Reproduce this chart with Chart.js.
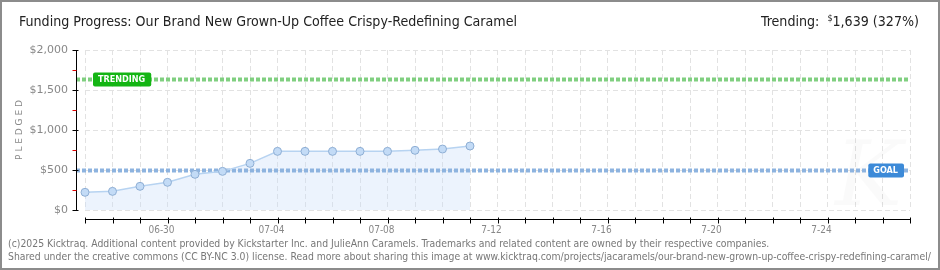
<!DOCTYPE html>
<html>
<head>
<meta charset="utf-8">
<script src="https://cdn.jsdelivr.net/npm/chart.js@4"></script>
<style>
  html, body { margin: 0; padding: 0; background: #fff; }
  #wrap { position: relative; width: 940px; height: 270px; overflow: hidden; }
  #frame { position: absolute; left: 0; top: 0; width: 940px; height: 270px; box-sizing: border-box; border: 2px solid #8c8c8c; pointer-events: none; }
  canvas { position: absolute; left: 0; top: 0; }
  .txt { position: absolute; white-space: nowrap; font-family: "Liberation Sans Narrow", "DejaVu Sans Condensed", sans-serif; }
  #title { left: 19px; top: 13px; font-size: 14.1px; color: #222; }
  #trend { right: 21px; top: 13px; font-size: 14.1px; color: #222; }
  #trend sup { font-size: 9px; vertical-align: 5px; margin-left: 4px; }
  .foot { left: 8px; font-size: 10.35px; color: #777; }
</style>
</head>
<body>
<div id="wrap">
  <canvas id="chartFunding" width="940" height="270"></canvas>
  <div class="txt" id="title">Funding Progress: Our Brand New Grown-Up Coffee Crispy-Redefining Caramel</div>
  <div class="txt" id="trend">Trending: <sup>$</sup>1,639 (327%)</div>
  <div class="txt foot" style="top:237px">(c)2025 Kicktraq. Additional content provided by Kickstarter Inc. and JulieAnn Caramels. Trademarks and related content are owned by their respective companies.</div>
  <div class="txt foot" style="top:250px">Shared under the creative commons (CC BY-NC 3.0) license. Read more about sharing this image at www.kicktraq.com/projects/jacaramels/our-brand-new-grown-up-coffee-crispy-redefining-caramel/</div>
  <div id="frame"></div>
</div>
<script>
(() => {
  'use strict'
  // jours de la campagne (axe x)
  const days = ['06-27','06-28','06-29','06-30','07-01','07-02','07-03','07-04','07-05','07-06','07-07',
    '07-08','07-09','07-10','07-11','07-12','07-13','07-14','07-15','07-16','07-17','07-18','07-19',
    '07-20','07-21','07-22','07-23','07-24','07-25','07-26','07-27'];
  // libellés affichés sous l'axe
  const tickText = { '06-30': '06-30', '07-04': '07-04', '07-08': '07-08', '07-12': '7-12', '07-16': '7-16', '07-20': '7-20', '07-24': '7-24' };
  const pledged = [221, 233, 296, 346, 446, 483, 583, 733, 733, 733, 733, 733, 746, 762, 800];
  const goal = 500;
  const trending = 1639;

  // lignes objectif / tendance + axes dessinés à la main
  const decor = {
    id: 'decor',
    beforeDatasetsDraw(chart) {
      const { ctx, chartArea: a, scales: { y } } = chart;
      const drawRef = (val, color, label, bg, atRight) => {
        const py = Math.round(y.getPixelForValue(val)) + 0.5;
        ctx.save();
        ctx.strokeStyle = color;
        ctx.lineWidth = 4;
        ctx.setLineDash([4, 2]);
        ctx.beginPath();
        ctx.moveTo(a.left - 9, py);
        ctx.lineTo(a.right, py);
        ctx.stroke();
        ctx.setLineDash([]);
        ctx.font = 'bold 9px "DejaVu Sans Condensed", sans-serif';
        const w = ctx.measureText(label).width + 11;
        const bx = atRight ? a.right - 6 - w : a.left + 8;
        ctx.fillStyle = bg;
        ctx.beginPath();
        ctx.roundRect(bx, py - 7, w, 14, 2);
        ctx.fill();
        ctx.fillStyle = '#fff';
        ctx.textBaseline = 'middle';
        ctx.fillText(label, bx + 5, py + 0.5);
        ctx.restore();
      };
      // filigrane
      ctx.save();
      ctx.font = 'italic 90px "DejaVu Serif", serif';
      ctx.fillStyle = 'rgba(0,0,0,0.02)';
      ctx.fillText('K', a.right - 75, a.bottom - 5);
      ctx.restore();
      drawRef(trending, '#80cf80', 'TRENDING', '#14b514', false);
      drawRef(goal, '#8db3df', 'GOAL', '#3c8ad8', true);
    },
    afterDraw(chart) {
      const { ctx, chartArea: a, scales: { x, y } } = chart;
      const ax = a.left - 9 + 0.5;
      const ay = a.bottom + 9 + 0.5;
      ctx.save();
      ctx.lineWidth = 1;
      ctx.strokeStyle = '#000';
      ctx.beginPath();
      ctx.moveTo(ax, a.top); ctx.lineTo(ax, a.bottom);
      ctx.moveTo(a.left, ay); ctx.lineTo(a.right + 1, ay);
      ctx.stroke();
      y.ticks.forEach(t => {
        const py = Math.round(y.getPixelForValue(t.value)) + 0.5;
        const major = t.value % 500 === 0;
        ctx.strokeStyle = major ? '#000' : '#e00000';
        ctx.beginPath();
        ctx.moveTo(ax - 4, py); ctx.lineTo(major ? ax + 2 : ax, py);
        ctx.stroke();
      });
      ctx.strokeStyle = '#000';
      days.forEach((d, i) => {
        const px = Math.round(x.getPixelForValue(i)) + 0.5;
        ctx.beginPath();
        ctx.moveTo(px, ay - 2); ctx.lineTo(px, ay + 4);
        ctx.stroke();
      });
      // titre de l'axe y
      ctx.translate(20, (a.top + a.bottom) / 2);
      ctx.rotate(-Math.PI / 2);
      ctx.font = '9px "DejaVu Sans", sans-serif';
      ctx.fillStyle = '#888';
      ctx.textAlign = 'center';
      ctx.textBaseline = 'middle';
      ctx.fillText('P L E D G E D', 0, 0);
      ctx.restore();
    }
  };

  new Chart(document.getElementById('chartFunding'), {
    type: 'line',
    data: {
      labels: days,
      datasets: [{
        label: 'Pledged',
        data: pledged,
        borderColor: '#b7d3f1',
        borderWidth: 1.5,
        backgroundColor: 'rgba(200,222,248,0.35)',
        fill: 'origin',
        tension: 0,
        pointRadius: 4,
        pointBackgroundColor: '#c3dbf6',
        pointBorderColor: '#8eaed4',
        pointBorderWidth: 1
      }]
    },
    options: {
      responsive: false,
      animation: false,
      layout: { padding: { top: 50, right: 30, left: 0, bottom: 0 } },
      plugins: {
        legend: { display: false },
        tooltip: { enabled: false },
        filler: { drawTime: 'beforeDatasetsDraw' }
      },
      scales: {
        x: {
          offset: false,
          afterFit: s => { s.height = 60 },
          border: { display: false, dash: [5, 3] },
          grid: { color: '#e2e2e2', drawTicks: false },
          ticks: {
            autoSkip: false, maxRotation: 0, padding: 14, labelOffset: -6,
            color: '#888', font: { family: '"DejaVu Sans Condensed", sans-serif', size: 10 },
            callback: (v, i) => tickText[days[i]] || ''
          }
        },
        y: {
          min: 0, max: 2000,
          afterFit: s => { s.width = 85 },
          border: { display: false, dash: [5, 3] },
          grid: { color: c => c.tick.value % 500 === 0 ? '#e2e2e2' : 'transparent', drawTicks: false },
          ticks: {
            stepSize: 250, padding: 17,
            color: '#888', font: { family: '"DejaVu Sans", sans-serif', size: 11 },
            callback: v => v % 500 === 0 ? '$' + v.toLocaleString('en-US') : ''
          }
        }
      }
    },
    plugins: [decor]
  });
})();
</script>
</body>
</html>
